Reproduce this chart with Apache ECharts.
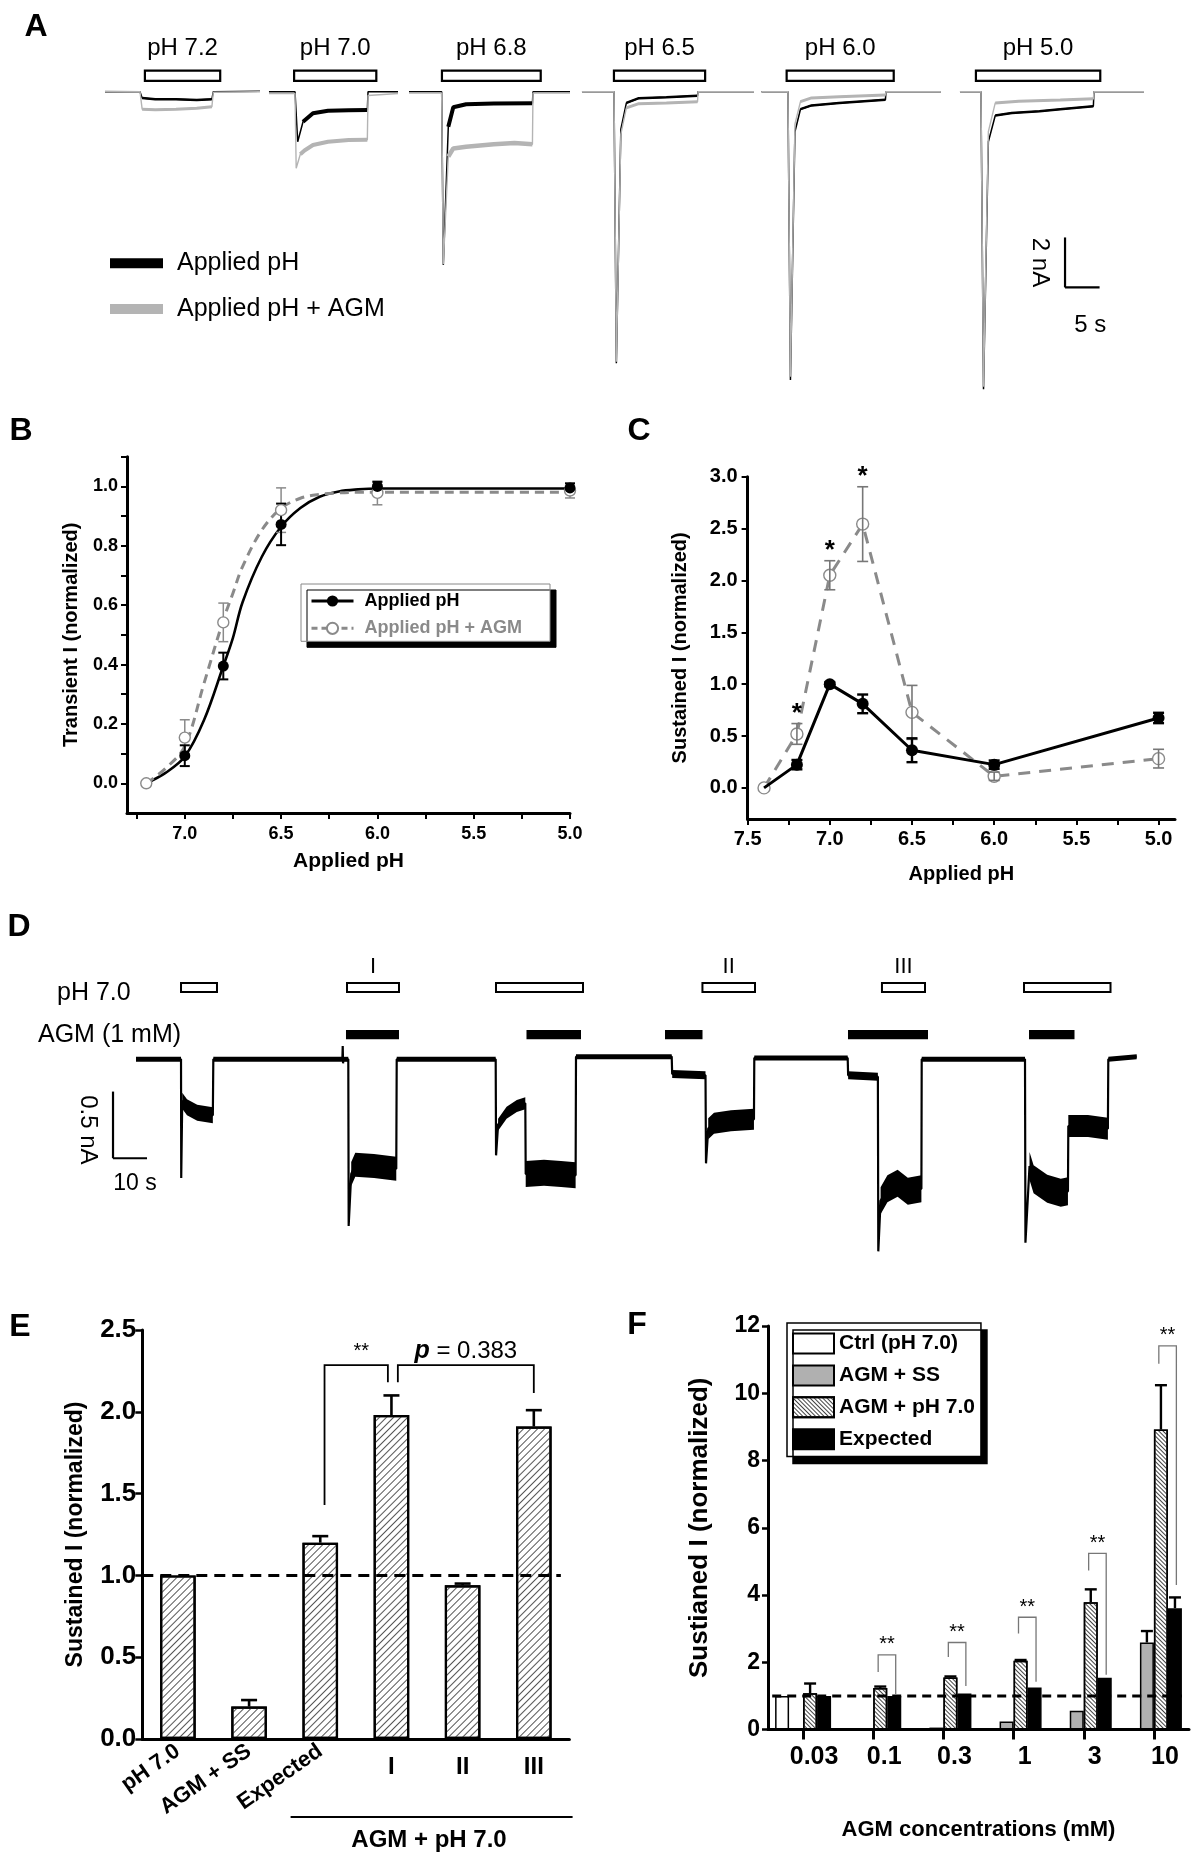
<!DOCTYPE html>
<html>
<head>
<meta charset="utf-8">
<title>Figure</title>
<script src="https://cdn.jsdelivr.net/npm/echarts@6.0.0/dist/echarts.min.js"></script>
<style>
html,body{margin:0;padding:0;background:#fff;}
#chart{width:1200px;height:1854px;}
</style>
</head>
<body>
<div id="chart"></div>
<script>
// ================= DATA =================
// ---- Panel A: current traces (time s, current nA) ----
const aPhLabels = ['pH 7.2', 'pH 7.0', 'pH 6.8', 'pH 6.5', 'pH 6.0', 'pH 5.0'];
const aPhOn  = [6.5, 28.1, 49.5, 74.4, 99.4, 126.8];
const aPhOff = [17.4, 40.0, 63.8, 87.6, 114.9, 144.8];
const aApplied = [
  [[0.72,0],[5.79,0],[6.1,-0.25],[8,-0.3],[11,-0.3],[14,-0.33],[16.2,-0.3],[16.4,0],[23.16,0.02]],
  [[24.46,0],[28.23,0],[28.62,-2.0],[29.39,-1.2],[30.83,-0.86],[33,-0.76],[36,-0.74],[38.7,-0.73],[38.8,0],[43.14,0]],
  [[44.73,0],[49.46,0],[49.7,-6.93],[50.42,-1.4],[51.14,-0.62],[53,-0.5],[57,-0.47],[62.6,-0.46],[62.68,0],[68.04,0]],
  [[69.77,0],[74.41,0],[74.75,-10.86],[75.4,-1.5],[76.2,-0.45],[78,-0.26],[82,-0.22],[86.5,-0.16],[86.57,0],[94.67,0]],
  [[95.76,0],[99.59,0],[99.95,-11.53],[100.6,-1.6],[101.4,-0.7],[103,-0.55],[107,-0.45],[113.7,-0.32],[113.78,0],[121.74,0]],
  [[124.49,0],[127.53,0],[127.9,-11.9],[128.6,-2.0],[129.6,-0.95],[132,-0.85],[136,-0.78],[139,-0.7],[143.8,-0.58],[143.89,0],[151.13,0]]
];
const aAgm = [
  [[0.72,0.02],[5.79,0],[6.1,-0.7],[8,-0.72],[11,-0.7],[14,-0.66],[16.2,-0.6],[16.4,-0.02],[23.16,0]],
  [[24.46,-0.07],[28.23,-0.07],[28.4,-3.06],[29.0,-2.5],[29.6,-2.35],[30.83,-2.13],[33,-2.0],[36,-1.93],[38.7,-1.92],[38.8,-0.15],[43.14,-0.07]],
  [[44.73,-0.05],[49.46,-0.05],[49.7,-6.9],[50.42,-2.6],[51.14,-2.27],[53,-2.2],[57,-2.1],[60,-2.05],[62.6,-2.1],[62.68,-0.05],[68.04,-0.05]],
  [[69.77,0],[74.41,0],[74.75,-10.8],[75.4,-1.7],[76.2,-0.65],[78,-0.48],[82,-0.45],[86.5,-0.4],[86.57,0],[94.67,0]],
  [[95.76,0],[99.59,0],[99.95,-11.4],[100.6,-1.3],[101.4,-0.4],[103,-0.25],[107,-0.2],[113.7,-0.13],[113.78,0],[121.74,0]],
  [[124.49,0],[127.53,0],[127.9,-11.8],[128.6,-1.6],[129.6,-0.45],[133,-0.38],[139,-0.33],[143.8,-0.28],[143.89,0],[151.13,0]]
];
// plateau (noisy, thicker) time ranges per sweep
const aAppliedPlateau = [[6.1,16.2],[29.39,38.7],[50.42,62.6],[76.2,86.5],[101.4,113.7],[129.6,143.8]];
const aAgmPlateau = [[6.1,16.2],[29.0,38.7],[50.42,62.6],[76.2,86.5],[101.4,113.7],[129.6,143.8]];
const aScaleOrigin = [[139.7, -7.83]];   // time s, current nA
const aScaleTime = 5;   // s
const aScaleCurrent = 2; // nA

// ---- Panel B: transient current ----
const bPH = [7.2, 7.0, 6.8, 6.5, 6.0, 5.0];
const bApplied = [0, 0.093, 0.395, 0.872, 1.0, 0.995];
const bAppliedErr = [0, 0.035, 0.045, 0.07, 0.015, 0.015];
const bAgm = [0, 0.154, 0.542, 0.92, 0.978, 0.986];
const bAgmErr = [0, 0.06, 0.065, 0.075, 0.04, 0.025];
const bFitPH = [7.2, 7.1, 7.0, 6.9, 6.8, 6.75, 6.7, 6.6, 6.5, 6.4, 6.3, 6.2, 6.1, 6.0, 5.5, 5.0];
const bFitApplied = [0.0, 0.035, 0.09, 0.213, 0.395, 0.49, 0.61, 0.763, 0.864, 0.927, 0.965, 0.983, 0.99, 0.993, 0.993, 0.993];
const bFitAgm = [0.0, 0.05, 0.125, 0.337, 0.55, 0.64, 0.73, 0.853, 0.926, 0.96, 0.973, 0.978, 0.98, 0.98, 0.98, 0.98];
const bTicksX = [5.0, 5.25, 5.5, 5.75, 6.0, 6.25, 6.5, 6.75, 7.0, 7.25];
const bLabelsX = [5.0, 5.5, 6.0, 6.5, 7.0];
const bTicksY = [0.0, 0.1, 0.2, 0.3, 0.4, 0.5, 0.6, 0.7, 0.8, 0.9, 1.0, 1.1];
const bLabelsY = [0.0, 0.2, 0.4, 0.6, 0.8, 1.0];

// ---- Panel C: sustained current ----
const cPH = [7.4, 7.2, 7.0, 6.8, 6.5, 6.0, 5.0];
const cApplied = [0, 0.224, 1.0, 0.81, 0.363, 0.224, 0.674];
const cAppliedErr = [0, 0.045, 0.02, 0.09, 0.115, 0.04, 0.05];
const cAgm = [0, 0.52, 2.05, 2.543, 0.728, 0.112, 0.282];
const cAgmErr = [0, 0.1, 0.14, 0.36, 0.26, 0.04, 0.09];
const cSig = ['', '*', '*', '*', '', '', ''];
const cTicksX = [5.0, 5.25, 5.5, 5.75, 6.0, 6.25, 6.5, 6.75, 7.0, 7.25, 7.5];
const cLabelsX = [5.0, 5.5, 6.0, 6.5, 7.0, 7.5];
const cTicksY = [0.0, 0.5, 1.0, 1.5, 2.0, 2.5, 3.0];

// ---- Panel D: continuous trace (time s, current nA) ----
const dTrace = [
  [0,0],[13.24,0],[13.3,-0.89],[13.6,-0.31],[15,-0.36],[18,-0.40],[22.6,-0.42],[22.74,0],
  [60.7,0],[60.8,0.1],[60.9,-0.03],[61,0],[62.44,0],[62.55,-1.25],[63.3,-0.86],[64.5,-0.79],[70,-0.80],[76.55,-0.82],[76.68,0],
  [105.79,0],[105.9,-0.72],[106.5,-0.49],[109,-0.40],[112,-0.35],[114.5,-0.33],[114.62,-0.86],[120,-0.85],[125,-0.86],[129.3,-0.87],[129.41,0.02],
  [157.56,0.02],[157.7,-0.11],[167.5,-0.12],[167.65,-0.78],[168.3,-0.52],[170,-0.48],[175,-0.46],[181.75,-0.45],[181.85,0.01],
  [209.32,0.01],[209.45,-0.12],[218.2,-0.13],[218.32,-1.44],[219,-1.06],[221,-0.97],[224,-0.93],[227,-0.99],[231,-0.97],[231.09,0],
  [261.47,0],[261.6,-1.375],[262.8,-0.80],[264,-0.90],[268,-0.97],[272,-1.0],[274.1,-0.99],[274.21,-0.50],[280,-0.50],[285.85,-0.52],[285.97,0],[294.32,0.02]
];
const dNoiseRanges = [[0,13.24],[13.6,22.6],[22.74,60.7],[61,62.44],[63.3,76.55],[76.68,105.79],[106.5,114.5],[114.62,129.3],[129.41,157.56],[157.7,167.5],[168.3,181.75],[181.85,209.32],[209.45,218.2],[219,231],[231.09,261.47],[262.8,274.1],[274.21,285.85],[285.97,294.32]];
const dPhOn  = [13.24, 62.06, 105.88, 166.6, 219.4, 261.18];
const dPhOff = [23.82, 77.35, 131.47, 182.06, 232.06, 286.62];
const dRoman = ['', 'I', '', 'II', 'III', ''];
const dAgmOn  = [61.76, 114.85, 155.59, 209.41, 262.65];
const dAgmOff = [77.35, 130.88, 166.62, 232.94, 276.03];
const dScaleOrigin = [[-6.76, -0.742]];
const dScaleTime = 10;     // s
const dScaleCurrent = 0.5; // nA

// ---- Panel E ----
const eCats = ['pH 7.0', 'AGM + SS', 'Expected', 'I', 'II', 'III'];
const eValues = [1.0, 0.198, 1.2, 1.98, 0.94, 1.91];
const eErr = [0, 0.04, 0.04, 0.12, 0.01, 0.10];
const eRef = 1.0;
const eBrackets = [[2.06, 2.95, 2.285, 1.43, 2.18], [3.09, 5.0, 2.285, 2.18, 2.115]]; // x1, x2, top, leg1 bottom, leg2 bottom
const eBracketLabels = ['**', 'p = 0.383'];

// ---- Panel F ----
const fCats = ['0.03', '0.1', '0.3', '1', '3', '10'];
const fCtrl = [1.0, 0, 0, 0, 0, 0];
const fAgmSS = [0, 0, 0.06, 0.24, 0.56, 2.59];
const fAgmSSErr = [0, 0, 0, 0, 0, 0.34];
const fAgmPH = [1.08, 1.24, 1.55, 2.05, 3.79, 8.92];
const fAgmPHErr = [0.29, 0.04, 0.03, 0.02, 0.38, 1.32];
const fExpected = [1.0, 1.0, 1.07, 1.25, 1.54, 3.61];
const fExpectedErr = [0, 0, 0, 0, 0, 0.32];
const fRef = 1.0;
const fBrTop = [null, 2.22, 2.59, 3.34, 5.24, 11.41];
const fBrLeft = [null, 1.71, 2.16, 2.86, 4.73, 10.88];
const fBrRight = [null, 1.05, 1.3, 1.42, 1.63, 4.3];

// ================= STYLE / HELPERS =================
const FONT = '"Liberation Sans", Arial, Helvetica, sans-serif';
const GRAY_TRACE = '#b4b4b4';
const GRAY = '#8a8a8a';

function txtStyle(text, size, weight, extra) {
  return Object.assign({
    text: text, fontSize: size, fontWeight: weight || 'normal', fontFamily: FONT, fill: '#000',
    align: 'center', verticalAlign: 'middle', textAlign: 'center', textVerticalAlign: 'middle'
  }, extra || {});
}

function errRenderer(color, capW, lw, upOnly) {
  return function (params, api) {
    const x = api.value(0), lo = api.value(1), hi = api.value(2);
    const a = api.coord([x, lo]), b = api.coord([x, hi]);
    const h = capW / 2;
    const st = { stroke: color, lineWidth: lw };
    const ch = [
      { type: 'line', shape: { x1: a[0], y1: a[1], x2: b[0], y2: b[1] }, style: st },
      { type: 'line', shape: { x1: b[0] - h, y1: b[1], x2: b[0] + h, y2: b[1] }, style: st }
    ];
    if (!upOnly) ch.push({ type: 'line', shape: { x1: a[0] - h, y1: a[1], x2: a[0] + h, y2: a[1] }, style: st });
    return { type: 'group', children: ch };
  };
}
function errData(xs, ys, es, upOnly, offset) {
  const out = [];
  xs.forEach((x, i) => {
    if (!es[i]) return;
    out.push([x + (offset || 0), upOnly ? ys[i] : ys[i] - es[i], ys[i] + es[i]]);
  });
  return out;
}
function zip(xs, ys) { return xs.map((x, i) => [x, ys[i]]); }
function inRange(pts, r) { return pts.filter(p => p[0] >= r[0] - 1e-9 && p[0] <= r[1] + 1e-9); }

const axisLineStyle = { show: true, onZero: false, lineStyle: { color: '#000', width: 3 } };

// ================= OPTION =================
const series = [];

// ---- A ----
series.push({
  type: 'custom', name: 'A stim', xAxisIndex: 0, yAxisIndex: 0, silent: true,
  data: aPhOn.map((s, i) => [s, aPhOff[i]]), encode: { x: [0, 1] },
  renderItem: function (params, api) {
    const a = api.coord([api.value(0), 0.84]);
    const b = api.coord([api.value(1), 0.43]);
    const c = api.coord([(api.value(0) + api.value(1)) / 2, 1.74]);
    return { type: 'group', children: [
      { type: 'rect', shape: { x: a[0], y: a[1], width: b[0] - a[0], height: b[1] - a[1] }, style: { fill: '#fff', stroke: '#000', lineWidth: 2.2 } },
      { type: 'text', x: c[0], y: c[1], style: txtStyle(aPhLabels[params.dataIndex], 24) }
    ] };
  }
});
const aPlateauWidthApplied = [2.4, 4, 4, 2.4, 2.4, 2.4];
const aPlateauWidthAgm = [3, 4, 4.5, 3, 3, 3];
aApplied.forEach((seg, k) => {
  series.push({
    type: 'line', name: 'A: Applied pH', xAxisIndex: 0, yAxisIndex: 0, data: seg, symbol: 'none', showSymbol: false,
    lineStyle: { color: '#000', width: 1.5 }, itemStyle: { color: '#000' }, z: 2, silent: true
  });
  series.push({
    type: 'line', name: 'A applied plateau', xAxisIndex: 0, yAxisIndex: 0, data: inRange(seg, aAppliedPlateau[k]), symbol: 'none', showSymbol: false,
    lineStyle: { color: '#000', width: aPlateauWidthApplied[k] }, z: 2, silent: true
  });
});
aAgm.forEach((seg, k) => {
  series.push({
    type: 'line', name: 'A: Applied pH + AGM', xAxisIndex: 0, yAxisIndex: 0, data: seg, symbol: 'none', showSymbol: false,
    lineStyle: { color: GRAY_TRACE, width: 1.4 }, itemStyle: { color: GRAY_TRACE }, z: 3, silent: true
  });
  series.push({
    type: 'line', name: 'A agm plateau', xAxisIndex: 0, yAxisIndex: 0, data: inRange(seg, aAgmPlateau[k]), symbol: 'none', showSymbol: false,
    lineStyle: { color: GRAY_TRACE, width: aPlateauWidthAgm[k] }, z: 3, silent: true
  });
});
series.push({
  type: 'custom', name: 'A scale', xAxisIndex: 0, yAxisIndex: 0, silent: true, clip: false,
  data: aScaleOrigin, encode: { x: 0, y: 1 },
  renderItem: function (params, api) {
    const o = api.coord([api.value(0), api.value(1)]);
    const v = api.coord([api.value(0), api.value(1) + aScaleCurrent]);
    const h = api.coord([api.value(0) + aScaleTime, api.value(1)]);
    const st = { stroke: '#000', lineWidth: 2.2 };
    return { type: 'group', children: [
      { type: 'line', shape: { x1: o[0], y1: o[1], x2: v[0], y2: v[1] }, style: st },
      { type: 'line', shape: { x1: o[0], y1: o[1], x2: h[0], y2: h[1] }, style: st },
      { type: 'text', x: o[0] - 25, y: (o[1] + v[1]) / 2, rotation: -Math.PI / 2, style: txtStyle(aScaleCurrent + ' nA', 24) },
      { type: 'text', x: (o[0] + h[0]) / 2 + 8, y: o[1] + 38, style: txtStyle(aScaleTime + ' s', 24) }
    ] };
  }
});

// ---- B ----
series.push({
  type: 'line', name: 'B fit', xAxisIndex: 1, yAxisIndex: 1, data: zip(bFitPH, bFitApplied), smooth: 0.35,
  symbol: 'none', showSymbol: false, lineStyle: { color: '#000', width: 2.6 }, z: 2, silent: true
});
series.push({
  type: 'line', name: 'B fit AGM', xAxisIndex: 1, yAxisIndex: 1, data: zip(bFitPH, bFitAgm), smooth: 0.35,
  symbol: 'none', showSymbol: false, lineStyle: { color: GRAY, width: 3, type: [9, 6] }, z: 3, silent: true
});
series.push({
  type: 'custom', name: 'B err AGM', xAxisIndex: 1, yAxisIndex: 1, silent: true, z: 4,
  data: errData(bPH, bAgm, bAgmErr, false), encode: { x: 0, y: [1, 2] },
  renderItem: errRenderer(GRAY, 10, 1.5, false)
});
series.push({
  type: 'custom', name: 'B err', xAxisIndex: 1, yAxisIndex: 1, silent: true, z: 5,
  data: errData(bPH, bApplied, bAppliedErr, false), encode: { x: 0, y: [1, 2] },
  renderItem: errRenderer('#000', 10, 2, false)
});
series.push({
  type: 'line', name: 'Applied pH + AGM', xAxisIndex: 1, yAxisIndex: 1, data: zip(bPH, bAgm),
  symbol: 'circle', symbolSize: 11, lineStyle: { color: 'rgba(0,0,0,0)', width: 1 },
  itemStyle: { color: '#fff', borderColor: GRAY, borderWidth: 1.4 }, z: 6, silent: true
});
series.push({
  type: 'line', name: 'Applied pH', xAxisIndex: 1, yAxisIndex: 1, data: zip(bPH, bApplied).slice(1),
  symbol: 'circle', symbolSize: 11, lineStyle: { color: 'rgba(0,0,0,0)', width: 1 },
  itemStyle: { color: '#000' }, z: 7, silent: true
});

// ---- C ----
series.push({
  type: 'line', name: 'C: AGM', xAxisIndex: 2, yAxisIndex: 2, data: zip(cPH, cAgm),
  symbol: 'circle', symbolSize: 12, lineStyle: { color: GRAY, width: 3, type: [12, 9] },
  itemStyle: { color: '#fff', borderColor: GRAY, borderWidth: 1.4 }, z: 3, silent: true
});
series.push({
  type: 'line', name: 'C: Applied', xAxisIndex: 2, yAxisIndex: 2,
  data: zip(cPH, cApplied).map((p, i) => i === 0 ? { value: p, symbol: 'none' } : p),
  symbol: 'circle', symbolSize: 12, lineStyle: { color: '#000', width: 3 },
  itemStyle: { color: '#000' }, z: 5, silent: true
});
series.push({
  type: 'custom', name: 'C err AGM', xAxisIndex: 2, yAxisIndex: 2, silent: true, z: 4,
  data: errData(cPH, cAgm, cAgmErr, false), encode: { x: 0, y: [1, 2] },
  renderItem: errRenderer('#777', 11, 1.6, false)
});
series.push({
  type: 'custom', name: 'C err', xAxisIndex: 2, yAxisIndex: 2, silent: true, z: 6,
  data: errData(cPH, cApplied, cAppliedErr, false), encode: { x: 0, y: [1, 2] },
  renderItem: errRenderer('#000', 11, 2.4, false)
});
series.push({
  type: 'custom', name: 'C sig', xAxisIndex: 2, yAxisIndex: 2, silent: true, z: 7,
  data: cPH.map((x, i) => [x, cAgm[i] + cAgmErr[i], i]).filter(d => cSig[d[2]]), encode: { x: 0, y: 1 },
  renderItem: function (params, api) {
    const p = api.coord([api.value(0), api.value(1)]);
    return { type: 'text', x: p[0], y: p[1] - 10, style: txtStyle(cSig[api.value(2)], 26, 'bold') };
  }
});

// ---- D ----
series.push({
  type: 'custom', name: 'D pH', xAxisIndex: 3, yAxisIndex: 3, silent: true,
  data: dPhOn.map((s, i) => [s, dPhOff[i]]), encode: { x: [0, 1] },
  renderItem: function (params, api) {
    const a = api.coord([api.value(0), 0.572]);
    const b = api.coord([api.value(1), 0.505]);
    const ch = [{ type: 'rect', shape: { x: a[0], y: a[1], width: b[0] - a[0], height: b[1] - a[1] }, style: { fill: '#fff', stroke: '#000', lineWidth: 2 } }];
    const lab = dRoman[params.dataIndex];
    if (lab) {
      const c = api.coord([(api.value(0) + api.value(1)) / 2, 0.694]);
      ch.push({ type: 'text', x: c[0], y: c[1], style: txtStyle(lab, 22) });
    }
    return { type: 'group', children: ch };
  }
});
series.push({
  type: 'custom', name: 'D AGM', xAxisIndex: 3, yAxisIndex: 3, silent: true,
  data: dAgmOn.map((s, i) => [s, dAgmOff[i]]), encode: { x: [0, 1] },
  renderItem: function (params, api) {
    const a = api.coord([api.value(0), 0.22]);
    const b = api.coord([api.value(1), 0.15]);
    return { type: 'rect', shape: { x: a[0], y: a[1], width: b[0] - a[0], height: b[1] - a[1] }, style: { fill: '#000' } };
  }
});
// noise band thickness in px for each range
const dNoiseWidth = [5, 16, 5, 5, 24, 5, 12, 26, 5, 8, 21, 5, 8, 27, 5, 28, 22, 5];
series.push({
  type: 'custom', name: 'D noise', xAxisIndex: 3, yAxisIndex: 3, silent: true, z: 2,
  data: dNoiseRanges.map((r, k) => [r[0], r[1], k]), encode: { x: [0, 1] },
  renderItem: function (params, api) {
    const k = api.value(2);
    const pts = inRange(dTrace, [api.value(0), api.value(1)]).map(p => api.coord(p));
    const w = dNoiseWidth[k] / 2;
    const upper = pts.map(p => [p[0], p[1] - w]);
    const lower = pts.slice().reverse().map(p => [p[0], p[1] + w]);
    return { type: 'polygon', shape: { points: upper.concat(lower) }, style: { fill: '#000' } };
  }
});
series.push({
  type: 'line', name: 'D trace', xAxisIndex: 3, yAxisIndex: 3, silent: true, symbol: 'none', showSymbol: false,
  data: dTrace, lineStyle: { color: '#000', width: 2.2 }, z: 3
});
series.push({
  type: 'custom', name: 'D scale', xAxisIndex: 3, yAxisIndex: 3, silent: true, clip: false,
  data: dScaleOrigin, encode: { x: 0, y: 1 },
  renderItem: function (params, api) {
    const o = api.coord([api.value(0), api.value(1)]);
    const v = api.coord([api.value(0), api.value(1) + dScaleCurrent]);
    const h = api.coord([api.value(0) + dScaleTime, api.value(1)]);
    const st = { stroke: '#000', lineWidth: 2.2 };
    return { type: 'group', children: [
      { type: 'line', shape: { x1: o[0], y1: o[1], x2: v[0], y2: v[1] }, style: st },
      { type: 'line', shape: { x1: o[0], y1: o[1], x2: h[0], y2: h[1] }, style: st },
      { type: 'text', x: o[0] - 25, y: (o[1] + v[1]) / 2 + 5, rotation: -Math.PI / 2, style: txtStyle(dScaleCurrent + ' nA', 24) },
      { type: 'text', x: (o[0] + h[0]) / 2 + 5, y: o[1] + 25, style: txtStyle(dScaleTime + ' s', 23) }
    ] };
  }
});

// ---- E ----
const hatchE = { symbol: 'rect', symbolSize: 1, color: '#555', dashArrayX: [1, 0], dashArrayY: [1, 4], rotation: -Math.PI / 4 };
const hatchF = { symbol: 'rect', symbolSize: 1, color: '#444', dashArrayX: [1, 0], dashArrayY: [1, 2], rotation: Math.PI / 4 };
series.push({
  type: 'bar', name: 'E bars', xAxisIndex: 4, yAxisIndex: 4, data: eValues, barWidth: '50%', silent: true,
  itemStyle: { color: '#fff', borderColor: '#000', borderWidth: 2.2, decal: hatchE }, z: 2
});
series.push({
  type: 'custom', name: 'E err', xAxisIndex: 6, yAxisIndex: 4, silent: true, z: 3,
  data: errData(eCats.map((c, i) => i), eValues, eErr, true), encode: { x: 0, y: [1, 2] },
  renderItem: errRenderer('#000', 16, 2.6, true)
});
series.push({
  type: 'line', name: 'E ref', xAxisIndex: 6, yAxisIndex: 4, silent: true, symbol: 'none', showSymbol: false,
  data: [[-0.5, eRef], [5.38, eRef]], lineStyle: { color: '#000', width: 3, type: [11, 7] }, z: 4
});
series.push({
  type: 'custom', name: 'E brackets', xAxisIndex: 6, yAxisIndex: 4, silent: true, z: 5, clip: false,
  data: eBrackets, encode: { x: [0, 1], y: [2, 3, 4] },
  renderItem: function (params, api) {
    const x1 = api.value(0), x2 = api.value(1), top = api.value(2), y1 = api.value(3), y2 = api.value(4);
    const p1 = api.coord([x1, y1]), p2 = api.coord([x1, top]), p3 = api.coord([x2, top]), p4 = api.coord([x2, y2]);
    const lab = eBracketLabels[params.dataIndex];
    const t = lab === '**'
      ? { type: 'text', x: (p2[0] + p3[0]) / 2 + 5, y: p2[1] - 14, style: txtStyle('**', 20) }
      : { type: 'text', x: (p2[0] + p3[0]) / 2, y: p2[1] - 14, style: txtStyle('{p|p} = 0.383', 24, 'normal', { rich: { p: { fontStyle: 'italic', fontWeight: 'bold', fontSize: 25, fontFamily: FONT } } }) };
    return { type: 'group', children: [
      { type: 'polyline', shape: { points: [p1, p2, p3, p4] }, style: { stroke: '#000', lineWidth: 1.8, fill: null } },
      t
    ] };
  }
});

// ---- F ----
const fSeriesDefs = [
  { name: 'Ctrl (pH 7.0)', data: fCtrl, err: null, off: -0.3, style: { color: '#fff', borderColor: '#000', borderWidth: 1.5 } },
  { name: 'AGM + SS', data: fAgmSS, err: fAgmSSErr, off: -0.1, style: { color: '#b0b0b0', borderColor: '#000', borderWidth: 1.5 } },
  { name: 'AGM + pH 7.0', data: fAgmPH, err: fAgmPHErr, off: 0.1, style: { color: '#fff', borderColor: '#000', borderWidth: 1.5, decal: hatchF } },
  { name: 'Expected', data: fExpected, err: fExpectedErr, off: 0.3, style: { color: '#000', borderColor: '#000', borderWidth: 1.5 } }
];
fSeriesDefs.forEach(d => {
  series.push({
    type: 'bar', name: d.name, xAxisIndex: 7, yAxisIndex: 5, data: d.data, barWidth: 14, barGap: '0%',
    itemStyle: d.style, silent: true, z: 2
  });
  if (d.err) series.push({
    type: 'custom', name: d.name + ' err', xAxisIndex: 8, yAxisIndex: 5, silent: true, z: 3,
    data: errData(fCats.map((c, i) => i), d.data, d.err, true, d.off), encode: { x: 0, y: [1, 2] },
    renderItem: errRenderer('#000', 12, 2.4, true)
  });
});
series.push({
  type: 'line', name: 'F ref', xAxisIndex: 8, yAxisIndex: 5, silent: true, symbol: 'none', showSymbol: false,
  data: [[-0.44, fRef], [5.4, fRef]], lineStyle: { color: '#000', width: 3, type: [9, 6] }, z: 4
});
series.push({
  type: 'custom', name: 'F brackets', xAxisIndex: 8, yAxisIndex: 5, silent: true, z: 5, clip: false,
  data: fCats.map((c, i) => [i, fBrTop[i], fBrLeft[i], fBrRight[i]]).filter(d => d[1] != null),
  encode: { x: 0, y: [1, 2, 3] },
  renderItem: function (params, api) {
    const c = api.value(0), top = api.value(1), l = api.value(2), r = api.value(3);
    const p1 = api.coord([c + 0.07, l]), p2 = api.coord([c + 0.07, top]), p3 = api.coord([c + 0.32, top]), p4 = api.coord([c + 0.32, r]);
    return { type: 'group', children: [
      { type: 'polyline', shape: { points: [p1, p2, p3, p4] }, style: { stroke: '#777', lineWidth: 1.3, fill: null } },
      { type: 'text', x: (p2[0] + p3[0]) / 2, y: p2[1] - 10, style: txtStyle('**', 20) }
    ] };
  }
});

const boldLabel = (size, extra) => Object.assign({ fontSize: size, fontWeight: 'bold', fontFamily: FONT, color: '#000' }, extra || {});

const option = {
  animation: false,
  backgroundColor: '#fff',
  textStyle: { fontFamily: FONT },
  grid: [
    { left: 100, top: 44.2, width: 1050, height: 367.5, outerBoundsMode: 'none' },   // A
    { left: 127, top: 456.7, width: 443, height: 356.3, outerBoundsMode: 'none' },   // B
    { left: 747.6, top: 476.7, width: 427.4, height: 342.3, outerBoundsMode: 'none' }, // C
    { left: 136, top: 952.6, width: 1008, height: 320.1, outerBoundsMode: 'none' },  // D
    { left: 142.3, top: 1330, width: 427.1, height: 409, outerBoundsMode: 'none' },  // E
    { left: 768, top: 1326, width: 421, height: 403.6, outerBoundsMode: 'none' }     // F
  ],
  xAxis: [
    { gridIndex: 0, type: 'value', min: 0, max: 152, show: false },
    { gridIndex: 1, type: 'value', min: 5.0, max: 7.3, inverse: true, axisLine: axisLineStyle,
      axisTick: { show: true, customValues: bTicksX, length: 6, lineStyle: { color: '#000', width: 2 } },
      axisLabel: Object.assign(boldLabel(18), { customValues: bLabelsX, formatter: v => v.toFixed(1), margin: 12 }),
      splitLine: { show: false },
      name: 'Applied pH', nameLocation: 'middle', nameGap: 38, nameTextStyle: boldLabel(21) },
    { gridIndex: 2, type: 'value', min: 4.9, max: 7.5, inverse: true, axisLine: axisLineStyle,
      axisTick: { show: true, customValues: cTicksX, length: 6, lineStyle: { color: '#000', width: 2 } },
      axisLabel: Object.assign(boldLabel(20), { customValues: cLabelsX, formatter: v => v.toFixed(1), margin: 10 }),
      splitLine: { show: false },
      name: 'Applied pH', nameLocation: 'middle', nameGap: 45, nameTextStyle: boldLabel(20) },
    { gridIndex: 3, type: 'value', min: 0, max: 296.47, show: false },
    { gridIndex: 4, type: 'category', position: 'bottom', data: eCats, axisLine: axisLineStyle, axisTick: { show: false },
      axisLabel: Object.assign(boldLabel(22), { interval: 0, rotate: 35, margin: 10, formatter: (v, i) => i < 3 ? v : '' }) },
    { gridIndex: 4, type: 'category', position: 'bottom', data: eCats, axisLine: { show: false }, axisTick: { show: false },
      axisLabel: Object.assign(boldLabel(24), { interval: 0, margin: 16, formatter: (v, i) => i >= 3 ? v : '' }) },
    { gridIndex: 4, type: 'value', min: -0.5, max: 5.5, show: false },
    { gridIndex: 5, type: 'category', position: 'bottom', data: fCats, axisLine: axisLineStyle,
      axisTick: { show: true, alignWithLabel: true, length: 10, lineStyle: { color: '#000', width: 3 } },
      axisLabel: Object.assign(boldLabel(25), { interval: 0, margin: 15, padding: [0, 0, 0, 22] }),
      name: 'AGM concentrations (mM)', nameLocation: 'middle', nameGap: 89, nameTextStyle: boldLabel(22) },
    { gridIndex: 5, type: 'value', min: -0.5, max: 5.5, show: false }
  ],
  yAxis: [
    { gridIndex: 0, type: 'value', min: -12.8, max: 1.9, show: false },
    { gridIndex: 1, type: 'value', min: -0.1, max: 1.1, axisLine: axisLineStyle,
      axisTick: { show: true, customValues: bTicksY, length: 6, lineStyle: { color: '#000', width: 2 } },
      axisLabel: Object.assign(boldLabel(18), { customValues: bLabelsY, formatter: v => v.toFixed(1), margin: 9 }),
      splitLine: { show: false },
      name: 'Transient I (normalized)', nameLocation: 'middle', nameGap: 46, nameTextStyle: boldLabel(20) },
    { gridIndex: 2, type: 'value', min: -0.3, max: 3.0, axisLine: axisLineStyle,
      axisTick: { show: true, customValues: cTicksY, length: 6, lineStyle: { color: '#000', width: 2 } },
      axisLabel: Object.assign(boldLabel(20), { customValues: cTicksY, formatter: v => v.toFixed(1), margin: 10 }),
      splitLine: { show: false },
      name: 'Sustained I (normalized)', nameLocation: 'middle', nameGap: 57, nameTextStyle: boldLabel(20) },
    { gridIndex: 3, type: 'value', min: -1.6, max: 0.8, show: false },
    { gridIndex: 4, type: 'value', min: 0, max: 2.5, interval: 0.5, axisLine: axisLineStyle,
      axisTick: { show: true, length: 7, lineStyle: { color: '#000', width: 2.5 } },
      axisLabel: Object.assign(boldLabel(26), { formatter: v => v.toFixed(1), margin: 6 }),
      splitLine: { show: false },
      name: 'Sustained I (normalized)', nameLocation: 'middle', nameGap: 55, nameTextStyle: boldLabel(23) },
    { gridIndex: 5, type: 'value', min: 0, max: 12, interval: 2, axisLine: axisLineStyle,
      axisTick: { show: true, length: 6, lineStyle: { color: '#000', width: 2.5 } },
      axisLabel: Object.assign(boldLabel(23), { margin: 8 }),
      splitLine: { show: false },
      name: 'Sustianed I (normalized)', nameLocation: 'middle', nameGap: 55, nameTextStyle: boldLabel(26) }
  ],
  legend: [
    { left: 110, top: 250.8, orient: 'vertical', padding: 0, itemWidth: 53, itemHeight: 10, itemGap: 20.7,
      icon: 'rect', selectedMode: false, formatter: n => n.replace('A: ', ''),
      textStyle: { fontSize: 25, fontFamily: FONT, color: '#000', lineHeight: 25, padding: [0, 0, 0, 9] },
      data: [{ name: 'A: Applied pH', itemStyle: { color: '#000' } }, { name: 'A: Applied pH + AGM', itemStyle: { color: GRAY_TRACE } }] },
    { left: 301, top: 584, orient: 'vertical', padding: [8, 28, 4, 9], itemWidth: 42, itemHeight: 14, itemGap: 9.3,
      selectedMode: false, backgroundColor: '#fff', borderColor: '#888', borderWidth: 1,
      shadowColor: '#000', shadowOffsetX: 6, shadowOffsetY: 6, shadowBlur: 0,
      textStyle: { fontSize: 18, fontWeight: 'bold', fontFamily: FONT, lineHeight: 18, padding: [0, 0, 0, 6] },
      data: [
        { name: 'Applied pH', textStyle: { color: '#000' }, lineStyle: { color: '#000', width: 3, type: 'solid' } },
        { name: 'Applied pH + AGM', textStyle: { color: GRAY }, lineStyle: { color: GRAY, width: 3, type: [6, 4] } }
      ] },
    { left: 787, top: 1323, orient: 'vertical', padding: [9.5, 6, 6.4, 5], itemWidth: 41, itemHeight: 20, itemGap: 9.9,
      icon: 'rect', selectedMode: false, backgroundColor: '#fff', borderColor: '#000', borderWidth: 1.5,
      shadowColor: '#000', shadowOffsetX: 6, shadowOffsetY: 7, shadowBlur: 0,
      textStyle: { fontSize: 21, fontWeight: 'bold', fontFamily: FONT, color: '#000', lineHeight: 21 },
      data: ['Ctrl (pH 7.0)', 'AGM + SS', 'AGM + pH 7.0', 'Expected'] }
  ],
  graphic: [
    { type: 'text', x: 36, y: 27, style: txtStyle('A', 32, 'bold') },
    { type: 'text', x: 21, y: 431, style: txtStyle('B', 32, 'bold') },
    { type: 'text', x: 639, y: 431, style: txtStyle('C', 32, 'bold') },
    { type: 'text', x: 19, y: 927, style: txtStyle('D', 32, 'bold') },
    { type: 'text', x: 20, y: 1327, style: txtStyle('E', 32, 'bold') },
    { type: 'text', x: 637, y: 1325, style: txtStyle('F', 32, 'bold') },
    { type: 'text', x: 57, y: 993, style: txtStyle('pH 7.0', 25, 'normal', { align: 'left', textAlign: 'left' }) },
    { type: 'text', x: 38, y: 1035, style: txtStyle('AGM (1 mM)', 25, 'normal', { align: 'left', textAlign: 'left' }) },
    { type: 'line', shape: { x1: 290.6, y1: 1817, x2: 572.6, y2: 1817 }, style: { stroke: '#000', lineWidth: 2 } },
    { type: 'text', x: 429, y: 1840, style: txtStyle('AGM + pH 7.0', 24, 'bold') }
  ],
  series: series
};

const chart = echarts.init(document.getElementById('chart'), null, { renderer: 'canvas', width: 1200, height: 1854 });
chart.setOption(option);
</script>
</body>
</html>
